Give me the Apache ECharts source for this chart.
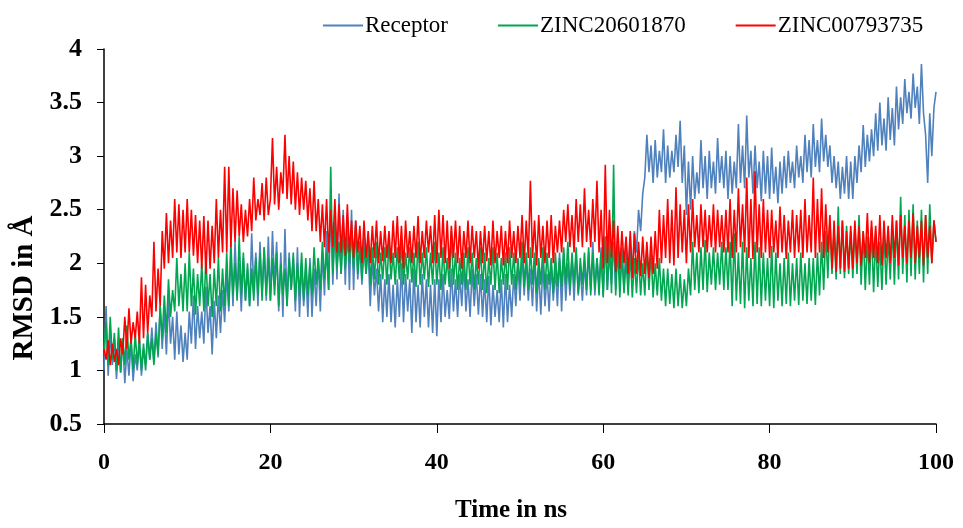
<!DOCTYPE html>
<html>
<head>
<meta charset="utf-8">
<title>RMSD</title>
<script src="https://cdn.jsdelivr.net/npm/echarts@6/dist/echarts.min.js"></script>
<style>
  html, body { margin: 0; padding: 0; background: #fff; }
  #chart { width: 963px; height: 528px; }
</style>
</head>
<body>
<div id="chart"></div>
<script>
// values, one sample every 0.25 ns from 0 to 100 ns
const timeMax = 100
const xTicks = [0, 20, 40, 60, 80, 100]
const seriesNames = ['Receptor', 'ZINC20601870', 'ZINC00793735']

const receptor = [
  1.0, 1.6, 0.95, 1.35, 1.05, 1.3, 0.92, 1.25, 0.98, 1.3, 0.88, 1.2, 0.95, 1.28, 0.9, 1.15, 1.0, 1.28, 0.95, 1.2,
  1.05, 1.35, 1.1, 1.4, 1.08, 1.45, 1.12, 1.6, 1.2, 1.55, 1.15, 1.68, 1.25, 1.5, 1.1, 1.55, 1.15, 1.42, 1.08, 1.35,
  1.1, 1.55, 1.25, 1.7, 1.2, 1.6, 1.3, 1.55, 1.25, 1.78, 1.35, 1.6, 1.15, 1.65, 1.3, 1.7, 1.35, 1.75, 1.45, 1.9,
  1.55, 2.1, 1.6, 2.2, 1.7, 2.0, 1.55, 2.05, 1.65, 1.95, 1.6, 2.28, 1.75, 2.1, 1.6, 2.2, 1.7, 2.15, 1.65, 2.25,
  1.65, 2.3, 1.8, 2.2, 1.55, 2.1, 1.5, 2.32, 1.6, 2.1, 1.75, 2.05, 1.55, 2.15, 1.5, 2.0, 1.6, 1.95, 1.5, 2.05,
  1.5, 1.95, 1.6, 2.05, 1.55, 2.1, 1.7, 2.3, 1.75, 2.55, 1.8, 2.4, 1.85, 2.65, 1.9, 2.5, 1.8, 2.45, 1.75, 2.5,
  1.75, 2.4, 1.85, 2.2, 1.8, 2.25, 1.9, 2.15, 1.6, 2.05, 1.7, 1.95, 1.55, 1.9, 1.45, 1.85, 1.5, 1.9, 1.45, 1.8,
  1.4, 1.85, 1.5, 2.0, 1.45, 1.9, 1.55, 1.85, 1.35, 1.95, 1.45, 1.8, 1.4, 1.9, 1.5, 1.85, 1.4, 1.8, 1.35, 1.85,
  1.32, 1.85, 1.45, 1.9, 1.5, 1.75, 1.48, 1.95, 1.55, 1.85, 1.5, 1.9, 1.6, 2.0, 1.55, 1.85, 1.5, 1.95, 1.6, 1.9,
  1.52, 1.9, 1.5, 1.85, 1.45, 1.88, 1.42, 1.8, 1.5, 1.75, 1.45, 1.85, 1.4, 1.9, 1.45, 1.8, 1.5, 1.9, 1.6, 2.0,
  1.65, 2.1, 1.7, 2.05, 1.65, 1.95, 1.6, 2.05, 1.55, 1.95, 1.52, 2.0, 1.6, 1.9, 1.55, 2.0, 1.65, 1.95, 1.6, 2.1,
  1.55, 2.1, 1.65, 2.0, 1.7, 2.05, 1.65, 2.1, 1.7, 1.95, 1.65, 2.0, 1.7, 2.1, 1.75, 2.2, 1.7, 2.05, 1.8, 2.15,
  1.7, 2.25, 1.75, 2.1, 1.8, 2.2, 1.75, 2.28, 1.8, 2.15, 1.75, 2.2, 1.85, 2.25, 1.9, 2.3, 2.1, 2.5, 2.3, 2.65,
  2.8, 3.2, 2.85, 3.1, 2.75, 3.15, 2.8, 3.05, 2.85, 3.25, 2.75, 3.1, 2.8, 3.05, 2.85, 3.2, 2.9, 3.33, 2.75, 3.1,
  2.45, 2.95, 2.5, 3.0, 2.6, 2.85, 2.65, 3.15, 2.7, 3.0, 2.6, 3.05, 2.7, 2.95, 2.65, 3.17, 2.75, 3.0, 2.7, 3.05,
  2.6, 3.0, 2.65, 2.95, 2.7, 3.3, 2.75, 3.1, 2.7, 3.38, 2.8, 3.05, 2.65, 3.1, 2.7, 2.95, 2.58, 3.05, 2.65, 3.0,
  2.6, 3.08, 2.65, 2.9, 2.56, 2.95, 2.65, 3.0, 2.7, 3.05, 2.75, 2.95, 2.7, 3.1, 2.8, 3.0, 2.75, 3.2, 2.85, 3.15,
  2.8, 3.3, 2.9, 3.15, 2.85, 3.35, 2.95, 3.2, 2.9, 3.1, 2.75, 3.0, 2.7, 2.95, 2.6, 2.9, 2.65, 3.0, 2.6, 2.95,
  2.6, 3.0, 2.75, 3.1, 2.85, 3.29, 2.9, 3.2, 2.95, 3.25, 3.0, 3.4, 3.05, 3.5, 3.1, 3.35, 3.05, 3.55, 3.15, 3.45,
  3.1, 3.65, 3.25, 3.55, 3.3, 3.72, 3.4, 3.6, 3.35, 3.77, 3.45, 3.65, 3.3, 3.86, 3.4, 3.2, 2.75, 3.4, 3.0, 3.45,
  3.6
]

const zinc20601870 = [
  1.2, 1.45, 1.05, 1.5, 1.1, 1.35, 1.0, 1.4, 0.98, 1.3, 1.05, 1.42, 1.1, 1.3, 1.0, 1.35, 1.05, 1.3, 1.0, 1.25,
  1.0, 1.35, 1.1, 1.3, 1.05, 1.35, 1.15, 1.6, 1.3, 1.7, 1.35, 1.85, 1.5, 1.75, 1.55, 2.05, 1.6, 1.9, 1.55, 2.0,
  1.55, 2.1, 1.6, 1.95, 1.52, 1.9, 1.6, 2.0, 1.55, 2.05, 1.6, 1.9, 1.5, 1.95, 1.6, 2.05, 1.55, 1.95, 1.6, 2.1,
  1.6, 2.2, 1.7, 2.0, 1.65, 2.25, 1.7, 2.1, 1.65, 2.0, 1.6, 1.95, 1.65, 2.05, 1.7, 2.1, 1.65, 2.15, 1.7, 2.05,
  1.65, 2.05, 1.7, 2.1, 1.6, 2.0, 1.7, 1.95, 1.6, 2.05, 1.75, 2.1, 1.65, 2.0, 1.7, 2.1, 1.65, 2.05, 1.7, 2.0,
  1.7, 2.15, 1.8, 2.05, 1.75, 2.2, 1.85, 2.1, 1.75, 2.9, 1.9, 2.35, 1.95, 2.2, 1.9, 2.3, 1.95, 2.25, 2.0, 2.3,
  1.95, 2.35, 1.9, 2.2, 1.85, 2.15, 1.9, 2.25, 1.8, 2.15, 1.85, 2.2, 1.8, 2.1, 1.85, 2.15, 1.8, 2.2, 1.85, 2.1,
  1.8, 2.15, 1.85, 2.2, 1.8, 2.1, 1.85, 2.15, 1.82, 2.1, 1.78, 2.2, 1.8, 2.1, 1.85, 2.15, 1.78, 2.1, 1.8, 2.2,
  1.8, 2.1, 1.75, 2.15, 1.8, 2.05, 1.78, 2.3, 1.8, 2.1, 1.75, 2.05, 1.8, 2.1, 1.75, 2.15, 1.8, 2.1, 1.75, 2.05,
  1.8, 2.15, 1.75, 2.1, 1.72, 2.05, 1.8, 2.15, 1.75, 2.1, 1.72, 2.05, 1.8, 2.1, 1.75, 2.15, 1.8, 2.1, 1.75, 2.05,
  1.8, 2.2, 1.78, 2.1, 1.75, 2.15, 1.8, 2.1, 1.72, 2.05, 1.8, 2.15, 1.75, 2.1, 1.8, 2.05, 1.72, 2.1, 1.78, 2.05,
  1.78, 2.15, 1.8, 2.2, 1.75, 2.1, 1.8, 2.15, 1.72, 2.05, 1.8, 2.1, 1.75, 2.15, 1.7, 2.1, 1.75, 2.05, 1.7, 2.1,
  1.68, 2.25, 1.75, 2.3, 1.72, 2.92, 1.7, 2.16, 1.68, 2.1, 1.72, 2.05, 1.7, 2.1, 1.68, 2.05, 1.72, 2.1, 1.7, 2.0,
  1.7, 2.15, 1.75, 2.1, 1.68, 2.0, 1.7, 2.05, 1.65, 1.95, 1.6, 1.95, 1.62, 1.9, 1.58, 1.95, 1.6, 1.9, 1.58, 1.85,
  1.6, 1.95, 1.7, 2.2, 1.75, 2.1, 1.72, 2.15, 1.75, 2.22, 1.73, 2.1, 1.8, 2.15, 1.75, 2.1, 1.8, 2.2, 1.75, 2.15,
  1.75, 2.2, 1.6, 2.28, 1.65, 2.1, 1.62, 2.2, 1.58, 2.15, 1.65, 2.05, 1.6, 2.2, 1.62, 2.15, 1.6, 2.1, 1.65, 2.05,
  1.6, 2.16, 1.58, 2.1, 1.65, 2.0, 1.6, 2.05, 1.62, 2.1, 1.6, 2.0, 1.65, 2.05, 1.61, 2.1, 1.65, 2.0, 1.62, 2.05,
  1.65, 2.05, 1.61, 2.1, 1.7, 2.2, 1.75, 2.3, 1.86, 2.4, 1.9, 2.3, 1.85, 2.53, 1.9, 2.4, 1.86, 2.35, 1.9, 2.3,
  1.86, 2.35, 1.9, 2.45, 1.8, 2.3, 1.75, 2.25, 1.8, 2.34, 1.73, 2.25, 1.78, 2.2, 1.75, 2.3, 1.8, 2.25, 1.85, 2.35,
  1.8, 2.4, 1.85, 2.62, 1.9, 2.45, 1.82, 2.5, 1.88, 2.55, 1.85, 2.4, 1.9, 2.5, 1.82, 2.45, 1.9, 2.55, 2.0, 2.4,
  2.2
]

const zinc00793735 = [
  1.2, 1.1, 1.28, 1.05, 1.25, 1.08, 1.2, 1.05, 1.3, 1.15, 1.5, 1.2, 1.58, 1.25, 1.45, 1.3, 1.55, 1.25, 1.87, 1.3,
  1.8, 1.35, 1.7, 1.5, 2.2, 1.55, 1.95, 1.6, 2.3, 1.95, 2.47, 2.0, 2.4, 2.05, 2.6, 2.1, 2.55, 2.05, 2.5, 2.1,
  2.6, 2.1, 2.5, 2.07, 2.45, 2.0, 2.4, 1.95, 2.44, 1.9, 2.4, 1.95, 2.35, 2.0, 2.6, 2.05, 2.5, 2.1, 2.9, 2.1,
  2.9, 2.15, 2.7, 2.2, 2.68, 2.25, 2.55, 2.2, 2.5, 2.25, 2.6, 2.3, 2.8, 2.4, 2.6, 2.45, 2.75, 2.4, 2.8, 2.45,
  2.6, 3.17, 2.55, 2.9, 2.5, 2.85, 2.65, 3.2, 2.6, 3.0, 2.55, 2.95, 2.5, 2.85, 2.45, 2.8, 2.5, 2.77, 2.4, 2.7,
  2.3, 2.77, 2.3, 2.6, 2.2, 2.55, 2.15, 2.6, 2.1, 2.5, 2.15, 2.6, 2.1, 2.55, 2.1, 2.45, 2.07, 2.55, 2.1, 2.4,
  2.05, 2.4, 2.1, 2.35, 2.0, 2.4, 2.05, 2.3, 2.0, 2.35, 2.05, 2.4, 2.0, 2.3, 2.02, 2.35, 2.05, 2.3, 2.0, 2.4,
  2.05, 2.44, 2.0, 2.35, 1.95, 2.4, 2.05, 2.3, 2.0, 2.35, 2.05, 2.44, 2.0, 2.3, 2.05, 2.4, 2.1, 2.35, 2.0, 2.45,
  2.0, 2.5, 2.05, 2.45, 2.0, 2.4, 1.95, 2.35, 2.05, 2.4, 2.0, 2.35, 1.95, 2.3, 2.05, 2.4, 2.0, 2.35, 2.05, 2.3,
  1.95, 2.3, 2.0, 2.35, 2.02, 2.3, 1.98, 2.4, 2.0, 2.3, 2.05, 2.35, 1.98, 2.3, 2.0, 2.4, 2.05, 2.3, 2.0, 2.35,
  2.05, 2.45, 2.0, 2.4, 2.05, 2.77, 2.05, 2.4, 1.98, 2.45, 2.05, 2.35, 2.0, 2.4, 2.05, 2.45, 2.0, 2.35, 2.1, 2.4,
  2.1, 2.5, 2.2, 2.55, 2.15, 2.45, 2.1, 2.6, 2.2, 2.55, 2.15, 2.7, 2.2, 2.5, 2.15, 2.6, 2.2, 2.77, 2.1, 2.5,
  1.95, 2.92, 2.0, 2.5, 2.05, 2.4, 1.92, 2.35, 1.95, 2.3, 2.0, 2.25, 1.9, 2.3, 1.86, 2.28, 1.9, 2.2, 1.88, 2.25,
  1.9, 2.2, 1.86, 2.25, 1.9, 2.3, 1.95, 2.5, 2.0, 2.45, 2.05, 2.6, 2.0, 2.5, 1.98, 2.71, 2.05, 2.55, 2.1, 2.5,
  2.0, 2.55, 2.1, 2.6, 2.15, 2.45, 2.1, 2.55, 2.15, 2.5, 2.1, 2.45, 2.15, 2.55, 2.1, 2.5, 2.15, 2.45, 2.1, 2.5,
  2.1, 2.6, 2.05, 2.5, 2.1, 2.7, 2.15, 2.55, 2.1, 2.8, 2.05, 2.6, 2.04, 2.86, 2.1, 2.55, 2.05, 2.6, 2.1, 2.5,
  2.05, 2.5, 2.1, 2.4, 2.05, 2.53, 2.1, 2.45, 2.04, 2.4, 2.1, 2.5, 2.05, 2.45, 2.1, 2.5, 2.05, 2.6, 2.1, 2.45,
  2.1, 2.8, 2.05, 2.6, 2.1, 2.7, 2.05, 2.55, 2.1, 2.45, 1.95, 2.4, 1.92, 2.35, 1.95, 2.4, 1.92, 2.3, 1.95, 2.35,
  1.95, 2.4, 2.0, 2.35, 1.98, 2.3, 2.05, 2.47, 2.0, 2.4, 2.05, 2.35, 2.0, 2.45, 1.98, 2.4, 2.05, 2.35, 2.0, 2.45,
  2.05, 2.4, 1.98, 2.45, 2.05, 2.35, 2.0, 2.4, 2.05, 2.47, 2.0, 2.35, 2.05, 2.4, 1.98, 2.45, 2.05, 2.35, 2.0, 2.4,
  2.2
]

const colors = ['#4f81bd', '#00a650', '#ff0000']
const serif = '"Liberation Serif", "Times New Roman", serif'

// spread samples evenly over 0..timeMax
function toPairs(values) {
  const dt = timeMax / (values.length - 1)
  return values.map((v, i) => [i * dt, v])
}

const chart = echarts.init(document.getElementById('chart'))

chart.setOption({
  animation: false,
  color: colors,
  grid: { left: 104, right: 27, top: 49, bottom: 95 },
  legend: {
    left: 318,
    top: 9,
    itemWidth: 40,
    itemHeight: 2,
    itemGap: 50,
    icon: 'rect',
    textStyle: { fontFamily: serif, fontSize: 23, color: '#000', padding: [0, 0, 0, -3] },
    data: seriesNames
  },
  graphic: [{
    type: 'text',
    x: 25,
    y: 288,
    rotation: Math.PI / 2,
    style: {
      text: 'RMSD in Å',
      fontFamily: serif,
      fontSize: 29,
      fontWeight: 'bold',
      fill: '#000',
      align: 'center',
      verticalAlign: 'middle'
    }
  }],
  xAxis: {
    type: 'value',
    min: xTicks[0],
    max: xTicks[xTicks.length - 1],
    interval: 20,
    name: 'Time in ns',
    nameLocation: 'middle',
    nameGap: 74,
    nameTextStyle: { fontFamily: serif, fontSize: 25, fontWeight: 'bold', color: '#000', padding: [0, 18, 0, 0] },
    axisLine: { lineStyle: { color: '#000', width: 1.5 } },
    axisTick: { length: 9, lineStyle: { color: '#000' } },
    axisLabel: { margin: 27, fontFamily: serif, fontSize: 24, fontWeight: 'bold', color: '#000' },
    splitLine: { show: false }
  },
  yAxis: {
    type: 'value',
    min: 0.5,
    max: 4,
    interval: 0.5,
    axisLine: { show: true, lineStyle: { color: '#000', width: 1.5 } },
    axisTick: { show: true, length: 7, lineStyle: { color: '#000' } },
    axisLabel: { margin: 22, fontFamily: serif, fontSize: 26, fontWeight: 'bold', color: '#000' },
    splitLine: { show: false }
  },
  series: [receptor, zinc20601870, zinc00793735].map((vals, i) => ({
    name: seriesNames[i],
    type: 'line',
    data: toPairs(vals),
    symbol: 'none',
    lineStyle: { width: 1.6 },
    z: 2 + i
  }))
})
</script>
</body>
</html>
